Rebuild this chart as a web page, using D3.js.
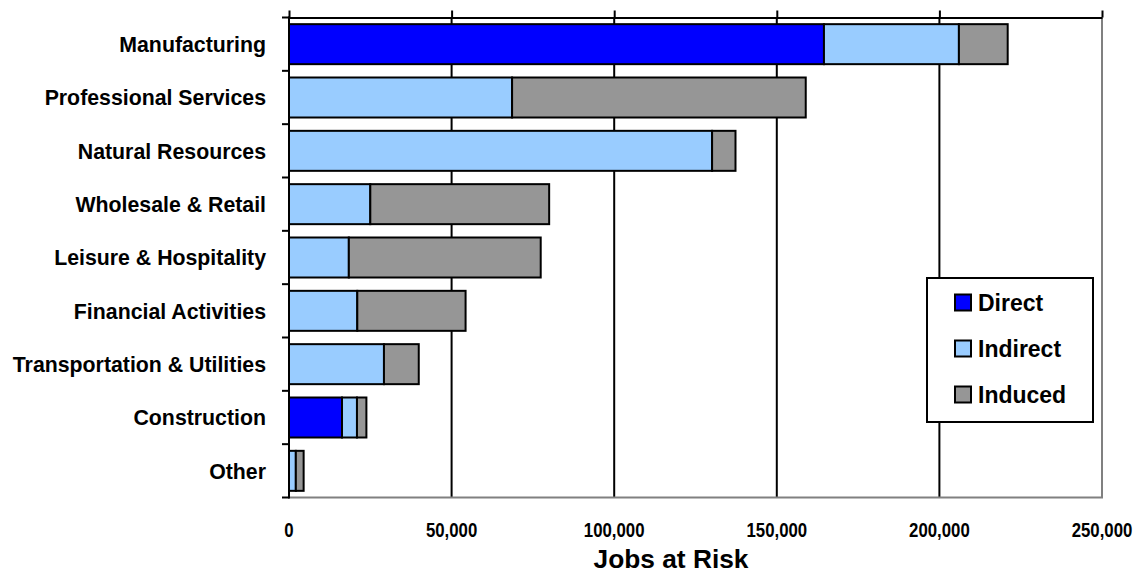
<!DOCTYPE html>
<html>
<head>
<meta charset="utf-8">
<script src="https://cdn.jsdelivr.net/npm/d3@7"></script>
<style>
  html, body { margin: 0; padding: 0; background: #ffffff; }
  svg { display: block; }
  text { font-family: "Liberation Sans", Arial, Helvetica, sans-serif; font-weight: bold; fill: #000; }
</style>
</head>
<body>
<svg id="chart" width="1141" height="574"></svg>
<script>
// Jobs at risk by sector, split into direct, indirect and induced effects
const categories = [
  "Manufacturing",
  "Professional Services",
  "Natural Resources",
  "Wholesale & Retail",
  "Leisure & Hospitality",
  "Financial Activities",
  "Transportation & Utilities",
  "Construction",
  "Other"
];
const direct   = [164500,     0,      0,     0,     0,     0,     0, 16300,    0];
const indirect = [ 41500, 68600, 130100, 25000, 18400, 21000, 29200,  4600, 2100];
const induced  = [ 15000, 90300,   7200, 55000, 59000, 33300, 10700,  2900, 2400];

const seriesNames = ["Direct", "Indirect", "Induced"];
const seriesColors = ["#0000FF", "#99CCFF", "#969696"];
const xTicks = [0, 50000, 100000, 150000, 200000, 250000];

const rows = categories.map((c, i) => ({
  category: c, Direct: direct[i], Indirect: indirect[i], Induced: induced[i]
}));

const svg = d3.select("#chart");
const plotLeft = 289, plotRight = 1102, plotTop = 17.5, plotBottom = 497.5;

const x = d3.scaleLinear().domain([0, 250000]).range([plotLeft, plotRight]);
const y = d3.scaleBand().domain(categories).range([plotTop, plotBottom])
  .paddingInner(0.25).paddingOuter(0.125);
const color = d3.scaleOrdinal().domain(seriesNames).range(seriesColors);

// vertical gridlines
svg.append("g").selectAll("line")
  .data(xTicks.slice(1, -1))
  .join("line")
  .attr("x1", d => x(d)).attr("x2", d => x(d))
  .attr("y1", plotTop).attr("y2", plotBottom)
  .attr("stroke", "#000").attr("stroke-width", 2);

// right and bottom frame edges
svg.append("path")
  .attr("d", `M${plotLeft},${plotBottom}H${plotRight}V${plotTop}`)
  .attr("fill", "none").attr("stroke", "#808080").attr("stroke-width", 2);

// stacked bars
const stack = d3.stack().keys(seriesNames)(rows);
svg.append("g").selectAll("g")
  .data(stack)
  .join("g")
  .attr("fill", d => color(d.key))
  .selectAll("rect")
  .data(d => d.filter(s => s[1] - s[0] > 0))
  .join("rect")
  .attr("x", d => x(d[0]))
  .attr("width", d => x(d[1]) - x(d[0]))
  .attr("y", d => y(d.data.category))
  .attr("height", y.bandwidth())
  .attr("stroke", "#000").attr("stroke-width", 2);

// top value axis with upward ticks
const topAxis = svg.append("g")
  .attr("transform", `translate(0,${plotTop})`)
  .call(d3.axisTop(x).tickValues(xTicks).tickSize(7).tickSizeOuter(0).tickFormat(""));
topAxis.select(".domain").attr("stroke", "#000").attr("stroke-width", 2);
topAxis.selectAll(".tick line").attr("stroke", "#000").attr("stroke-width", 2);

// left category axis: ticks at band boundaries
const bounds = categories.map(c => y(c) - y.step() * y.paddingInner() / 2)
  .concat([plotBottom]);
svg.append("g").selectAll("line")
  .data(bounds)
  .join("line")
  .attr("x1", plotLeft - 7).attr("x2", plotLeft)
  .attr("y1", d => d).attr("y2", d => d)
  .attr("stroke", "#000").attr("stroke-width", 2);
svg.append("line")
  .attr("x1", plotLeft).attr("x2", plotLeft)
  .attr("y1", plotTop - 1).attr("y2", plotBottom + 1)
  .attr("stroke", "#000").attr("stroke-width", 2);

// category labels
svg.append("g").selectAll("text")
  .data(categories)
  .join("text")
  .attr("x", 266)
  .attr("y", d => y(d) + y.bandwidth() / 2)
  .attr("dy", "0.36em")
  .attr("text-anchor", "end")
  .style("font-size", "21.3px")
  .text(d => d);

// value tick labels along the bottom
const fmt = d3.format(",");
svg.append("g").selectAll("text")
  .data(xTicks)
  .join("text")
  .attr("transform", d => `translate(${x(d)},536.5) scale(0.8,1)`)
  .attr("text-anchor", "middle")
  .style("font-size", "21px")
  .text(d => fmt(d));

// axis title
svg.append("text")
  .attr("x", 671).attr("y", 568)
  .attr("text-anchor", "middle")
  .style("font-size", "26.3px")
  .text("Jobs at Risk");

// legend
const legend = svg.append("g").attr("transform", "translate(927,278)");
legend.append("rect")
  .attr("width", 166).attr("height", 144)
  .attr("fill", "#fff").attr("stroke", "#000").attr("stroke-width", 2);
const item = legend.selectAll("g.item")
  .data(seriesNames)
  .join("g")
  .attr("class", "item")
  .attr("transform", (d, i) => `translate(28,${32.5 + i * 46})`);
item.append("rect")
  .attr("x", 0).attr("y", -16)
  .attr("width", 16).attr("height", 16)
  .attr("fill", d => color(d))
  .attr("stroke", "#000").attr("stroke-width", 2);
item.append("text")
  .attr("x", 23).attr("y", 0)
  .style("font-size", "23px")
  .text(d => d);
</script>
</body>
</html>
